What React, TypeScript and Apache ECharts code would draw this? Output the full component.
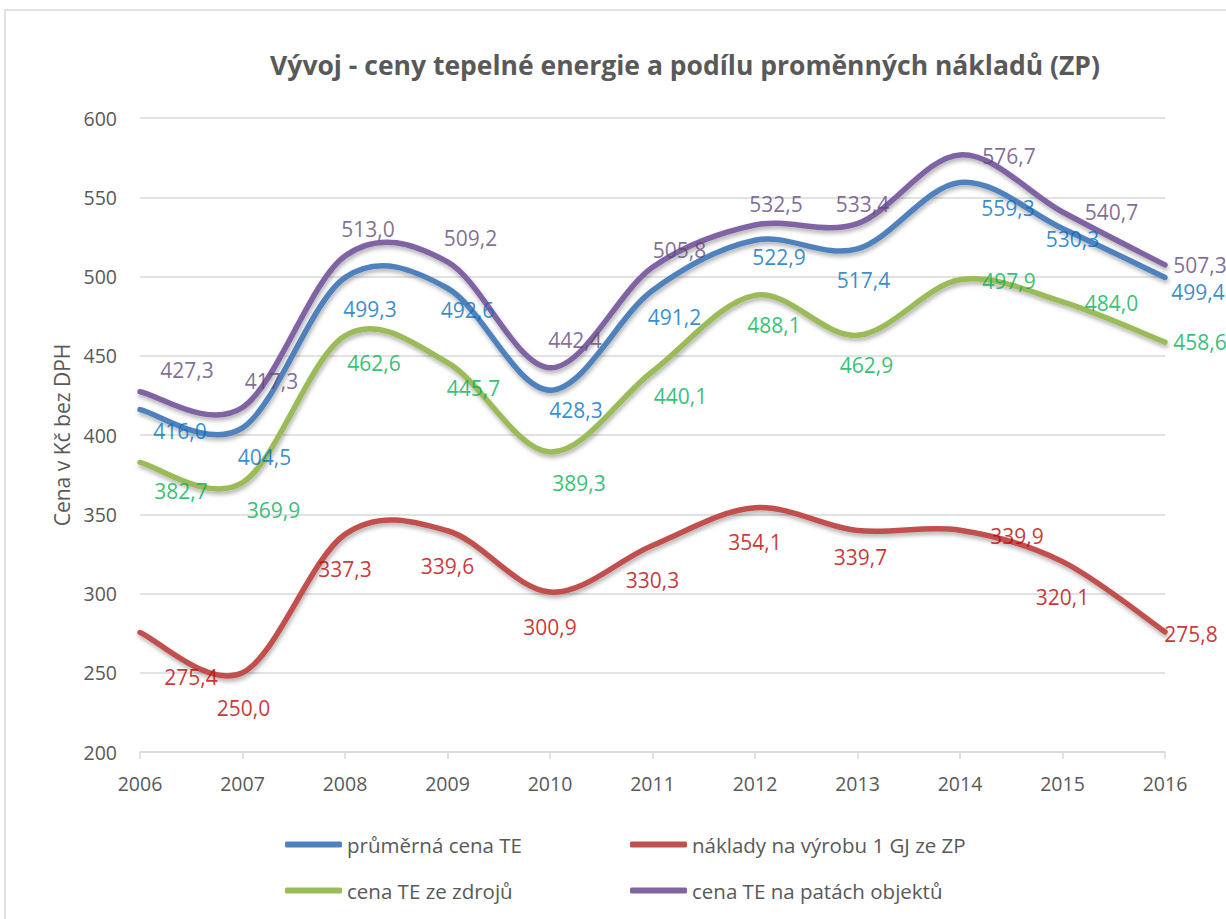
import React, { useEffect, useRef } from "react";
import * as echarts from "echarts";

const years = ["2006", "2007", "2008", "2009", "2010", "2011", "2012", "2013", "2014", "2015", "2016"];
const prumernaCena = [416.0, 404.5, 499.3, 492.6, 428.3, 491.2, 522.9, 517.4, 559.3, 530.3, 499.4];
const naklady = [275.4, 250.0, 337.3, 339.6, 300.9, 330.3, 354.1, 339.7, 339.9, 320.1, 275.8];
const cenaZdroju = [382.7, 369.9, 462.6, 445.7, 389.3, 440.1, 488.1, 462.9, 497.9, 484.0, 458.6];
const cenaPaty = [427.3, 417.3, 513.0, 509.2, 442.4, 505.8, 532.5, 533.4, 576.7, 540.7, 507.3];

const seriesNames = [
  "průměrná cena TE",
  "náklady na výrobu 1 GJ ze ZP",
  "cena TE ze zdrojů",
  "cena TE na patách objektů",
];

// label placement (pixel offsets from the point), style only
const blueOff = [[40, 21], [22, 29], [25, 31], [20, 22], [26, 20], [22, 27], [24, 17], [6, 31], [48, 25], [10, 11], [33, 15]];
const redOff = [[51, 45], [1, 35], [0, 35], [0, 35], [0, 35], [0, 35], [0, 34], [3, 26], [57, 6], [0, 35], [26, 2]];
const greenOff = [[41, 29], [31, 27], [29, 27], [26, 25], [29, 31], [28, 25], [19, 30], [9, 30], [49, 1], [49, 1], [35, 0]];
const purpleOff = [[47, -22], [29, -27], [23, -27], [23, -24], [25, -28], [27, -17], [21, -21], [5, -20], [49, 1], [49, 0], [35, 0]];

const FONT = "'Open Sans', 'Noto Sans', sans-serif";
const AXIS_TEXT = "#595959";

// Excel-like (Catmull-Rom) smooth line drawn through the points given by the axes
function splinePath(pts: number[][]) {
  const n = pts.length;
  let d = `M${pts[0][0]},${pts[0][1]}`;
  for (let i = 0; i < n - 1; i++) {
    const p0 = pts[Math.max(0, i - 1)];
    const p1 = pts[i];
    const p2 = pts[i + 1];
    const p3 = pts[Math.min(n - 1, i + 2)];
    const c1x = p1[0] + (p2[0] - p0[0]) / 6;
    const c1y = p1[1] + (p2[1] - p0[1]) / 6;
    const c2x = p2[0] - (p3[0] - p1[0]) / 6;
    const c2y = p2[1] - (p3[1] - p1[1]) / 6;
    d += ` C${c1x},${c1y} ${c2x},${c2y} ${p2[0]},${p2[1]}`;
  }
  return d;
}

function makeLine(name: string, values: number[], lineColor: string) {
  return {
    name,
    type: "custom",
    coordinateSystem: "cartesian2d",
    itemStyle: { color: lineColor },
    z: 2,
    silent: true,
    renderItem: (params: any, api: any) => {
      if (params.dataIndex !== 0) return null;
      const pts = values.map((v, i) => api.coord([i, v]));
      return {
        type: "path",
        shape: { pathData: splinePath(pts) },
        style: {
          fill: "none",
          stroke: lineColor,
          lineWidth: 5.5,
          lineCap: "round",
          lineJoin: "round",
          shadowColor: "rgba(0,0,0,0.3)",
          shadowBlur: 4,
          shadowOffsetX: 1,
          shadowOffsetY: 3,
        },
      };
    },
    data: values.map((v, i) => [i, v]),
  };
}

function makeLabels(name: string, values: number[], offs: number[][], labelColor: string) {
  return {
    name,
    type: "scatter",
    symbol: "circle",
    symbolSize: 0.01,
    itemStyle: { color: "rgba(0,0,0,0)" },
    z: 5,
    silent: true,
    label: {
      show: true,
      position: "inside",
      color: labelColor,
      fontSize: 21,
      fontFamily: FONT,
      formatter: (p: any) => Number(p.value[1]).toFixed(1).replace(".", ","),
    },
    data: values.map((v, i) => ({ value: [i, v], label: { offset: offs[i] } })),
  };
}

export default function App() {
  const ref = useRef<HTMLDivElement>(null);
  useEffect(() => {
    if (!ref.current) return;
    const chart = echarts.init(ref.current, undefined, { renderer: "svg" });
    const legendCommon = {
      orient: "vertical",
      icon: "roundRect",
      itemWidth: 57,
      itemHeight: 6,
      itemGap: 25,
      textStyle: { color: AXIS_TEXT, fontSize: 20.5, fontFamily: FONT, lineHeight: 20 },
      top: 829,
    };
    chart.setOption({
      animation: false,
      backgroundColor: "#ffffff",
      title: {
        text: "Vývoj - ceny tepelné energie a podílu proměnných nákladů (ZP)",
        left: 680,
        top: 46,
        textAlign: "center",
        textStyle: { color: AXIS_TEXT, fontSize: 26.5, fontWeight: "bold", fontFamily: FONT },
      },
      graphic: [
        {
          type: "rect",
          shape: { x: 5, y: 10, width: 1260, height: 960 },
          style: { fill: "none", stroke: "#D9D9D9", lineWidth: 1.5 },
          silent: true,
        },
      ],
      legend: [
        { ...legendCommon, left: 280, data: [seriesNames[0], seriesNames[2]] },
        { ...legendCommon, left: 625, data: [seriesNames[1], seriesNames[3]] },
      ],
      grid: { left: 140, right: 61, top: 118, bottom: 167, containLabel: false },
      xAxis: {
        type: "category",
        data: years,
        boundaryGap: false,
        axisLine: { lineStyle: { color: "#D9D9D9", width: 1.5 } },
        axisTick: { show: true, length: 7, lineStyle: { color: "#D9D9D9", width: 1.5 } },
        axisLabel: { color: AXIS_TEXT, fontSize: 19.5, fontFamily: FONT, margin: 21 },
        splitLine: { show: false },
      },
      yAxis: {
        type: "value",
        min: 200,
        max: 600,
        interval: 50,
        name: "Cena v Kč bez DPH",
        nameLocation: "middle",
        nameGap: 63,
        nameRotate: 90,
        nameTextStyle: { color: AXIS_TEXT, fontSize: 21, fontFamily: FONT },
        axisLine: { show: false },
        axisTick: { show: false },
        axisLabel: { color: AXIS_TEXT, fontSize: 19.5, fontFamily: FONT, margin: 23 },
        splitLine: { lineStyle: { color: "#D9D9D9", width: 1.5 } },
      },
      series: [
        makeLine(seriesNames[0], prumernaCena, "#4F81BD"),
        makeLine(seriesNames[1], naklady, "#C0504D"),
        makeLine(seriesNames[2], cenaZdroju, "#9BBB59"),
        makeLine(seriesNames[3], cenaPaty, "#8064A2"),
        makeLabels(seriesNames[0], prumernaCena, blueOff, "#0070C0"),
        makeLabels(seriesNames[1], naklady, redOff, "#C00000"),
        makeLabels(seriesNames[2], cenaZdroju, greenOff, "#00B050"),
        makeLabels(seriesNames[3], cenaPaty, purpleOff, "#5F497A"),
      ],
    });
    return () => chart.dispose();
  }, []);
  return (
    <div
      ref={ref}
      style={{ position: "fixed", left: 0, top: 0, width: 1226, height: 919, background: "#fff" }}
    />
  );
}
